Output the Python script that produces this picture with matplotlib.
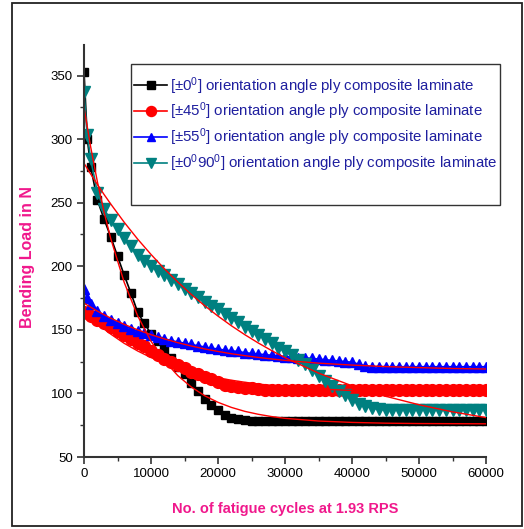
import matplotlib
matplotlib.use("Agg")
import matplotlib.pyplot as plt
from matplotlib.patches import Rectangle
from matplotlib.ticker import MultipleLocator

FONT = 'Liberation Sans'
plt.rcParams['font.family'] = [FONT, 'DejaVu Sans']
plt.rcParams['mathtext.fontset'] = 'custom'
plt.rcParams['mathtext.rm'] = FONT
plt.rcParams['mathtext.it'] = FONT

# ---------------- data ----------------
cycles = [0, 500] + list(range(1000, 60001, 1000))

load_0 = [353, 300, 278, 252, 237, 223, 208, 193, 179, 164, 155, 147, 141, 135, 128, 121, 115,
          108, 102, 96, 91, 87, 83, 81, 80, 79, 78.5] + [78] * 35
load_45 = [164, 163, 161, 158, 155, 152, 149, 146, 143, 140, 137, 133, 130, 127, 125, 122, 120,
           117, 115, 113, 111, 109, 107, 106, 105, 104.5, 104, 103.5] + [103] * 34
load_55 = [182, 175, 170, 165, 161, 158, 155.5, 153, 151, 149, 147.5, 146, 144.5, 143, 141.5,
           140.5, 139.5, 138.5, 137.5, 136.5, 135.5, 135, 134, 133.5, 133, 132, 131.5, 131, 130.5,
           130, 129.5, 129, 128.5, 128, 128, 127.5, 127, 126.5, 126, 125.5, 125, 124.5, 123,
           121.5, 121] + [121] * 17
load_090 = [337, 303, 284, 258, 245, 236, 229, 222, 216, 209, 204, 200, 196.5, 193, 189.5, 186,
            182.5, 179, 175.5, 172, 169, 166, 162.5, 159, 156, 152.5, 149, 146, 143, 139.5, 136,
            133, 130, 126.5, 123, 118.5, 114, 110, 106, 102, 98.5, 95, 92, 90, 88.5, 87.5,
            87] + [87] * 15

fit_cycles = [0, 1000, 2000, 3000, 4000, 6000, 8000, 10000, 12000, 14000, 16000, 18000, 20000,
              22000, 24000, 26000, 28000, 30000, 35000, 40000, 45000, 50000, 55000, 60000]
fit_0 = [325, 293.7, 266.4, 242.5, 221.6, 187.3, 161.1, 141, 125.7, 114, 105.1, 98.2, 93, 89,
         85.9, 83.6, 81.8, 80.4, 78.3, 77.2, 76.6, 76.3, 76.2, 76.1]
fit_45 = [165, 159.8, 155, 150.6, 146.6, 139.4, 133.4, 128.2, 123.9, 120.2, 117.1, 114.5, 112.3,
          110.4, 108.8, 107.4, 106.3, 105.3, 103.5, 102.3, 101.5, 101, 100.7, 100.4]
fit_55 = [171, 167.8, 164.7, 161.9, 159.2, 154.3, 150, 146.2, 142.9, 139.9, 137.3, 135, 133,
          131.2, 129.7, 128.3, 127.1, 126, 123.8, 122.3, 121.1, 120.3, 119.6, 119.2]
fit_090 = [281, 272.5, 264.3, 256.4, 248.9, 234.6, 221.4, 209.3, 198, 187.6, 177.9, 169, 160.8,
           153.2, 146.2, 139.7, 133.7, 128.1, 116, 106, 97.8, 91.1, 85.5, 81]

labels = [r"[$\pm$0$^{0}$] orientation angle ply composite laminate",
          r"[$\pm$45$^{0}$] orientation angle ply composite laminate",
          r"[$\pm$55$^{0}$] orientation angle ply composite laminate",
          r"[$\pm$0$^{0}$90$^{0}$] orientation angle ply composite laminate"]

# ---------------- figure ----------------
W, H = 524, 529
fig = plt.figure(figsize=(W / 100, H / 100), dpi=100)
L, R, T, B = 84, 486, 45, 457
ax = fig.add_axes([L / W, 1 - B / H, (R - L) / W, (B - T) / H])

series = [(load_0, 'black', 's', 6.2),
          (load_45, 'red', 'o', 8.5),
          (load_55, 'blue', '^', 7.5),
          (load_090, '#008080', 'v', 8.3)]
for (vals, col, mk, ms), lab in zip(series, labels):
    ax.plot(cycles, vals, color=col, marker=mk, markersize=ms, markeredgecolor=col,
            markerfacecolor=col, lw=1.2, label=lab)

for f in (fit_0, fit_45, fit_55, fit_090):
    ax.plot(fit_cycles, f, color='red', lw=1.0)

ax.set_xlim(0, 60000)
ax.set_ylim(50, 374)
ax.xaxis.set_major_locator(MultipleLocator(10000))
ax.xaxis.set_minor_locator(MultipleLocator(5000))
ax.yaxis.set_major_locator(MultipleLocator(50))
ax.yaxis.set_minor_locator(MultipleLocator(25))
for s in ('top', 'right'):
    ax.spines[s].set_visible(False)
for s in ('left', 'bottom'):
    ax.spines[s].set_color('#333333')
    ax.spines[s].set_linewidth(1.5)
ax.tick_params(which='major', direction='out', length=5, width=1.2, color='#333333',
               labelsize=9.5, pad=3)
ax.tick_params(which='minor', direction='out', length=3, width=1.0, color='#333333')

# legend box (drawn explicitly to match the reference's size)
def ax_xy(px, py):
    return (px - L) / (R - L), (B - py) / (B - T)

x0, y1 = ax_xy(131, 64)
x1, y0 = ax_xy(500, 205)
ax.add_patch(Rectangle((x0, y0), x1 - x0, y1 - y0, transform=ax.transAxes, fill=True,
                       facecolor='white', edgecolor='#333333', lw=1.0, zorder=4,
                       clip_on=False))
leg = ax.legend(loc='upper left', bbox_to_anchor=ax_xy(134, 75),
                borderaxespad=0, frameon=False, fontsize=10.8,
                handlelength=2.2, handletextpad=0.2, labelspacing=0.28,
                borderpad=0.0, labelcolor='#1f1f9f', markerscale=0.85)
leg.set_zorder(5)

pink = '#f0188c'
fig.text(28 / W, 1 - 256.5 / H, 'Bending Load in N', rotation=90, ha='center', va='center',
         color=pink, fontsize=11.5, fontweight='bold')
fig.text(285 / W, 1 - 509.5 / H, 'No. of fatigue cycles at 1.93 RPS', ha='center', va='center',
         color=pink, fontsize=10.5, fontweight='bold')

fig.patches.append(Rectangle((12 / W, 1 - 526 / H), (522 - 12) / W, (526 - 3) / H,
                             transform=fig.transFigure, fill=False, edgecolor='#222222',
                             lw=1.3))

fig.savefig('out.png', dpi=100)
